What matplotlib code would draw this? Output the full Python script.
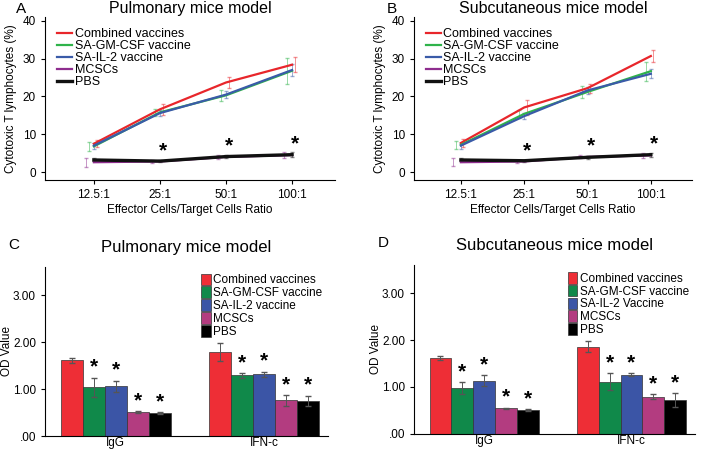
import matplotlib
matplotlib.use('Agg')
import matplotlib.pyplot as plt
import numpy as np

plt.rcParams['font.family'] = ['Liberation Sans', 'DejaVu Sans']

# Dados - citotoxicidade (paineis A e B)
razoes = ['12.5:1', '25:1', '50:1', '100:1']
series = ['Combined vaccines', 'SA-GM-CSF vaccine', 'SA-IL-2 vaccine', 'MCSCs', 'PBS']

pulm_ctl = [
    [7.5, 16.6, 23.7, 28.4],
    [6.8, 15.8, 20.3, 26.8],
    [7.0, 15.6, 20.5, 27.0],
    [2.6, 2.8, 4.0, 4.5],
    [3.2, 2.9, 4.1, 4.6],
]
pulm_ctl_err = [
    [1.0, 1.5, 1.5, 2.0],
    [1.2, 1.0, 1.5, 3.5],
    [0.8, 0.8, 1.0, 1.5],
    [1.2, 0.5, 0.5, 0.7],
    [0.4, 0.3, 0.4, 0.6],
]
subc_ctl = [
    [7.7, 17.1, 22.2, 30.7],
    [7.2, 15.4, 21.2, 26.7],
    [7.0, 14.8, 21.6, 26.0],
    [2.6, 2.8, 4.0, 4.4],
    [3.2, 3.0, 3.9, 4.6],
]
subc_ctl_err = [
    [1.0, 2.0, 1.2, 1.5],
    [1.0, 1.0, 1.5, 2.5],
    [0.8, 0.8, 1.0, 1.2],
    [1.0, 0.4, 0.4, 0.6],
    [0.4, 0.3, 0.4, 0.5],
]
estrelas_ctl = [1, 2, 3]
estrelas_ctl_y = [5.5, 6.8, 7.4]

# Dados - ELISA (paineis C e D)
grupos = ['IgG', 'IFN-c']
pulm_od = [
    [1.61, 1.79],
    [1.04, 1.29],
    [1.06, 1.31],
    [0.51, 0.76],
    [0.49, 0.75],
]
pulm_od_err = [
    [0.05, 0.19],
    [0.20, 0.05],
    [0.12, 0.06],
    [0.02, 0.11],
    [0.02, 0.11],
]
subc_od = [
    [1.61, 1.86],
    [0.97, 1.11],
    [1.13, 1.26],
    [0.54, 0.79],
    [0.51, 0.72],
]
subc_od_err = [
    [0.04, 0.11],
    [0.13, 0.18],
    [0.12, 0.03],
    [0.02, 0.05],
    [0.02, 0.14],
]
series_bar_d = ['Combined vaccines', 'SA-GM-CSF vaccine', 'SA-IL-2 Vaccine', 'MCSCs', 'PBS']

cores_linha = ['#e8262b', '#2fb34a', '#3a5ba8', '#8e2d8e', '#111111']
cores_barra = ['#ee2e36', '#10894a', '#3b55a6', '#b33c80', '#000000']
larg_linha = [1.6, 1.6, 1.6, 1.6, 2.4]
desloc_err = [0.04, -0.08, 0.0, -0.12, 0.0]


def painel_linhas(ax, valores, erros, titulo, letra):
    x = np.arange(len(razoes))
    for i, nome in enumerate(series):
        ax.plot(x, valores[i], color=cores_linha[i], lw=larg_linha[i], label=nome, zorder=3 + (i == 4))
        ax.errorbar(x + desloc_err[i], valores[i], yerr=erros[i], fmt='none',
                    ecolor=cores_linha[i], elinewidth=0.7, capsize=1.5, alpha=0.5,
                    ls=':', zorder=2)
    for xi, yi in zip(estrelas_ctl, estrelas_ctl_y):
        ax.text(xi + 0.05, yi, '*', ha='center', va='center', fontsize=15, fontweight='bold')
    ax.set_xticks(x)
    ax.set_xticklabels(razoes, fontsize=8.5)
    ax.set_xlim(-0.74, 3.65)
    ax.set_ylim(-2.1, 41)
    ax.set_yticks([0, 10, 20, 30, 40])
    ax.tick_params(axis='y', labelsize=8.5, length=3)
    ax.tick_params(axis='x', length=3)
    ax.spines['top'].set_visible(False)
    ax.spines['right'].set_visible(False)
    ax.set_xlabel('Effector Cells/Target Cells Ratio', fontsize=8.5, labelpad=2)
    ax.set_ylabel('Cytotoxic T lymphocytes (%)', fontsize=8.5)
    ax.set_title(titulo, fontsize=11.5, pad=3)
    ax.text(-0.10, 1.05, letra, transform=ax.transAxes, fontsize=11, va='center')
    ax.legend(loc='upper left', frameon=False, fontsize=9, handlelength=1.2,
              handletextpad=0.2, labelspacing=0.0, borderaxespad=0.1,
              bbox_to_anchor=(0.02, 0.97))


def painel_barras(ax, valores, erros, nomes, titulo, letra):
    x = np.arange(len(grupos))
    w = 0.148
    for i, nome in enumerate(nomes):
        pos = x + (i - 2) * w
        ax.bar(pos, valores[i], width=w, color=cores_barra[i], edgecolor='#333333',
               linewidth=0.5, label=nome, zorder=2)
        ax.errorbar(pos, valores[i], yerr=erros[i], fmt='none', ecolor='#555555',
                    elinewidth=0.7, capsize=2, ls=':', zorder=3)
        if i > 0:
            for p, v, e in zip(pos, valores[i], erros[i]):
                ax.text(p, v + e + 0.02, '*', ha='center', va='bottom', fontsize=15,
                        fontweight='bold')
    ax.set_xticks(x)
    ax.set_xticklabels(grupos, fontsize=8.5)
    ax.tick_params(axis='x', length=0, pad=1)
    ax.set_xlim(-0.475, 1.43)
    ax.set_ylim(0, 3.6)
    ax.set_yticks([0, 1, 2, 3])
    ax.set_yticklabels(['.00', '1.00', '2.00', '3.00'], fontsize=8.5)
    ax.tick_params(axis='y', length=3)
    ax.spines['top'].set_visible(False)
    ax.spines['right'].set_visible(False)
    ax.set_ylabel('OD Value', fontsize=8.5, labelpad=0)
    ax.set_title(titulo, fontsize=12, pad=11)
    ax.text(-0.13, 1.13, letra, transform=ax.transAxes, fontsize=11, va='center')
    ax.legend(loc='upper right', frameon=False, fontsize=8.5, handlelength=0.8,
              handleheight=1.15, handletextpad=0.2, labelspacing=0.0,
              borderaxespad=0.1, bbox_to_anchor=(1.0, 0.995))


fig = plt.figure(figsize=(7.09, 4.5), dpi=100)
axA = fig.add_axes([0.0635, 0.60, 0.409, 0.362])
axB = fig.add_axes([0.584, 0.60, 0.392, 0.362])
axC = fig.add_axes([0.0635, 0.031, 0.399, 0.376])
axD = fig.add_axes([0.584, 0.036, 0.396, 0.375])

painel_linhas(axA, pulm_ctl, pulm_ctl_err, 'Pulmonary mice model', 'A')
painel_linhas(axB, subc_ctl, subc_ctl_err, 'Subcutaneous mice model', 'B')
painel_barras(axC, pulm_od, pulm_od_err, series, 'Pulmonary mice model', 'C')
painel_barras(axD, subc_od, subc_od_err, series_bar_d, 'Subcutaneous mice model', 'D')

fig.savefig('out.png', dpi=100)
